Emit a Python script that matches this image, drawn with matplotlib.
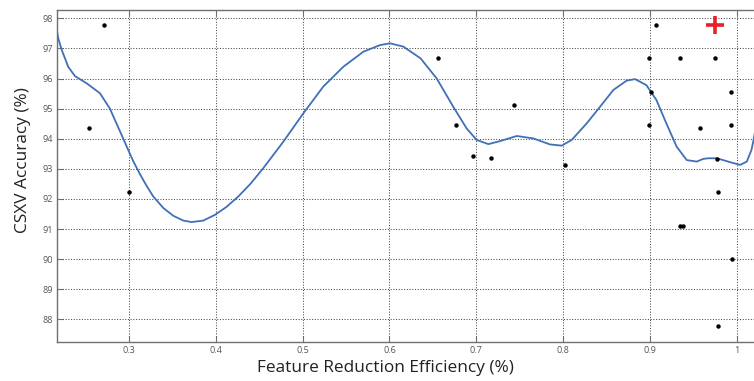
import matplotlib
matplotlib.use("Agg")
import matplotlib.pyplot as plt

# Individual classifier runs: reduction efficiency vs. cross-validation accuracy
run_eff = [0.2536, 0.271, 0.2996, 0.656, 0.6767, 0.6967, 0.717, 0.743, 0.8023,
           0.899, 0.899, 0.9014, 0.9075, 0.935, 0.935, 0.938, 0.958, 0.9748,
           0.9777, 0.978, 0.978, 0.9939, 0.994, 0.9947]
run_acc = [94.35, 97.78, 92.22, 96.67, 94.46, 93.44, 93.35, 95.12, 93.12,
           96.67, 94.44, 95.56, 97.78, 96.67, 91.11, 91.11, 94.34, 96.67,
           93.33, 92.22, 87.78, 95.56, 94.44, 90.00]

# Selected operating point
best_eff = [0.9748]
best_acc = [97.78]

# Fitted trend curve
fit_eff = [0.2168, 0.2185, 0.2225, 0.2263, 0.23, 0.2378, 0.2513, 0.2666, 0.278,
           0.2896, 0.3, 0.305, 0.3127, 0.3204, 0.328, 0.3395, 0.351, 0.3626,
           0.3722, 0.3856, 0.399, 0.4126, 0.4259, 0.4399, 0.4547, 0.4778, 0.5008,
           0.5238, 0.5469, 0.57, 0.5892, 0.6007, 0.616, 0.6359, 0.6545, 0.6736,
           0.689, 0.7005, 0.714, 0.7274, 0.7467, 0.7658, 0.785, 0.7985, 0.81,
           0.8273, 0.8426, 0.858, 0.8733, 0.883, 0.896, 0.9075, 0.919, 0.931,
           0.9425, 0.954, 0.9617, 0.9674, 0.977, 0.9809, 0.9925, 1.004, 1.0117,
           1.017, 1.0195, 1.0246]
fit_acc = [97.61, 97.34, 96.95, 96.67, 96.39, 96.08, 95.84, 95.51, 95.00,
           94.25, 93.57, 93.25, 92.82, 92.43, 92.08, 91.70, 91.44, 91.28,
           91.23, 91.28, 91.47, 91.74, 92.08, 92.50, 93.02, 93.90, 94.84,
           95.73, 96.39, 96.89, 97.11, 97.17, 97.06, 96.67, 96.00, 95.06,
           94.34, 93.96, 93.82, 93.92, 94.09, 94.01, 93.81, 93.77, 93.96,
           94.51, 95.06, 95.62, 95.93, 95.98, 95.78, 95.29, 94.51, 93.73,
           93.29, 93.24, 93.33, 93.35, 93.35, 93.32, 93.22, 93.13, 93.24,
           93.62, 93.96, 94.80]

x_ticks = [0.3, 0.4, 0.5, 0.6, 0.7, 0.8, 0.9, 1.0]
x_tick_labels = ["0.3", "0.4", "0.5", "0.6", "0.7", "0.8", "0.9", "1"]
y_ticks = [88, 89, 90, 91, 92, 93, 94, 95, 96, 97, 98]

plt.rcParams['font.family'] = ['Open Sans', 'DejaVu Sans']

fig = plt.figure(figsize=(7.54, 3.81), dpi=100)
ax = fig.add_axes([57 / 754, 39 / 381, (758 - 57) / 754, (342 - 10) / 381])

ax.plot(fit_eff, fit_acc, color='#4170b6', lw=1.3, zorder=3,
        solid_joinstyle='round')
ax.plot(run_eff, run_acc, 'o', color='black', ms=3.2, mew=0, zorder=4)
ax.plot(best_eff, best_acc, '+', color='#e8202a', ms=13, mew=2.6, zorder=5)

ax.set_xlim(0.2171, 1.0246)
ax.set_ylim(87.246, 98.276)
ax.set_xticks(x_ticks)
ax.set_xticklabels(x_tick_labels)
ax.set_yticks(y_ticks)

ax.grid(True, color='#4a4a4a', linestyle=(0, (1.0, 1.6)), linewidth=0.75)
ax.set_axisbelow(True)

for side in ['left', 'bottom', 'top']:
    ax.spines[side].set_color('#707070')
    ax.spines[side].set_linewidth(1.0)
ax.spines['right'].set_visible(False)

ax.tick_params(direction='in', length=4, width=0.8, color='#707070',
               labelsize=6.5, labelcolor='#555555', top=True, pad=3)

ax.set_xlabel("Feature Reduction Efficiency (%)", fontsize=12.4, color='#222222')
ax.xaxis.set_label_coords(0.468, -0.054)
ax.set_ylabel("CSXV Accuracy (%)", fontsize=12.4, color='#222222')
ax.yaxis.set_label_coords(-0.037, 0.547)

fig.savefig("out.png", dpi=100)
